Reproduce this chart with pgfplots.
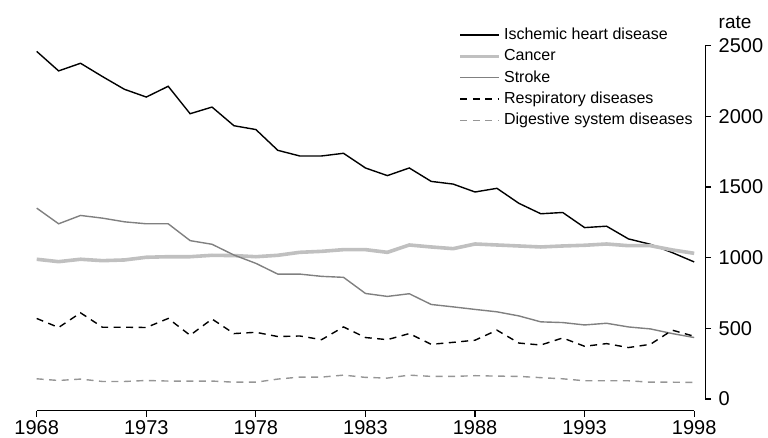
\documentclass[border=0pt]{standalone}
\usepackage{fontspec}
\setmainfont{Liberation Sans}
\usepackage{pgfplots}
\pgfplotsset{compat=1.18}
\usepackage{pgfplotstable}
\definecolor{cancergray}{RGB}{192,192,192}
\definecolor{strokegray}{RGB}{128,128,128}
\definecolor{diggray}{RGB}{150,150,150}
\pgfplotstableread{
year ihd cancer stroke resp dig
1968 2460 989 1351 570 143
1969 2322 972 1240 506 131
1970 2376 989 1299 610 141
1971 2282 979 1280 508 124
1972 2192 984 1254 508 124
1973 2137 1003 1240 506 131
1974 2213 1007 1240 570 127
1975 2019 1007 1121 451 127
1976 2066 1017 1095 566 127
1977 1934 1015 1019 463 119
1978 1907 1007 960 472 119
1979 1760 1017 884 442 141
1980 1720 1038 884 446 155
1981 1720 1045 868 420 155
1982 1739 1057 861 510 169
1983 1635 1057 747 435 153
1984 1581 1038 726 420 148
1985 1635 1090 745 463 169
1986 1540 1076 669 387 160
1987 1521 1064 652 401 160
1988 1465 1097 634 416 165
1989 1491 1090 617 487 162
1990 1385 1083 588 396 160
1991 1311 1076 546 382 151
1992 1320 1083 541 432 143
1993 1213 1088 524 373 129
1994 1223 1097 536 392 129
1995 1133 1085 510 364 129
1996 1095 1085 496 387 119
1997 1036 1055 463 487 119
1998 970 1031 435 444 117
}\datatable
\begin{document}
\begin{tikzpicture}
\begin{axis}[
  scale only axis,
  width=657.5bp, height=353.25bp,
  xmin=1968, xmax=1998, ymin=0, ymax=2500,
  clip=false,
  separate axis lines,
  axis x line*=bottom,
  axis y line*=right,
  axis x line shift=11.7bp,
  axis y line shift=11bp,
  axis line style={line width=1.2bp, black, -},
  xtick={1968,1973,...,1998},
  ytick={0,500,...,2500},
  tick align=outside,
  major tick length=6bp,
  tick style={line width=1.2bp, black},
  /pgf/number format/assume math mode=true,
  /pgf/number format/1000 sep={},
  ticklabel style={font=\fontsize{20bp}{23bp}\selectfont},
  yticklabel style={xshift=4bp},
  legend style={draw=none, fill=none, inner sep=0pt,
    at={(axis description cs:0.6412,1.0607)}, anchor=north west,
    row sep=0pt, column sep=3bp,
    nodes={inner sep=0pt, text height=15bp, text depth=6.3bp},
    font=\fontsize{16bp}{19bp}\selectfont},
  legend cell align=left,
  legend image code/.code={\draw[#1] (0bp,0bp) -- (39bp,0bp);},
]
\addplot[black, line width=1.4bp] table[x=year,y=ihd] {\datatable};
\addlegendentry{Ischemic heart disease}
\addplot[cancergray, line width=3.6bp] table[x=year,y=cancer] {\datatable};
\addlegendentry{Cancer}
\addplot[strokegray, line width=1.4bp] table[x=year,y=stroke] {\datatable};
\addlegendentry{Stroke}
\addplot[black, line width=1.4bp, dash pattern=on 7bp off 5.5bp] table[x=year,y=resp] {\datatable};
\addlegendentry{Respiratory diseases}
\addplot[diggray, line width=1.4bp, dash pattern=on 7bp off 5.5bp] table[x=year,y=dig] {\datatable};
\addlegendentry{Digestive system diseases}
\node[anchor=base west, inner sep=0pt, font=\fontsize{19bp}{22bp}\selectfont] at ([xshift=24.3bp,yshift=17.45bp]axis description cs:1,1) {rate};
\end{axis}
\pgfresetboundingbox
\useasboundingbox (-36.7bp,-39bp) rectangle (731.3bp,399bp);
\end{tikzpicture}
\end{document}
